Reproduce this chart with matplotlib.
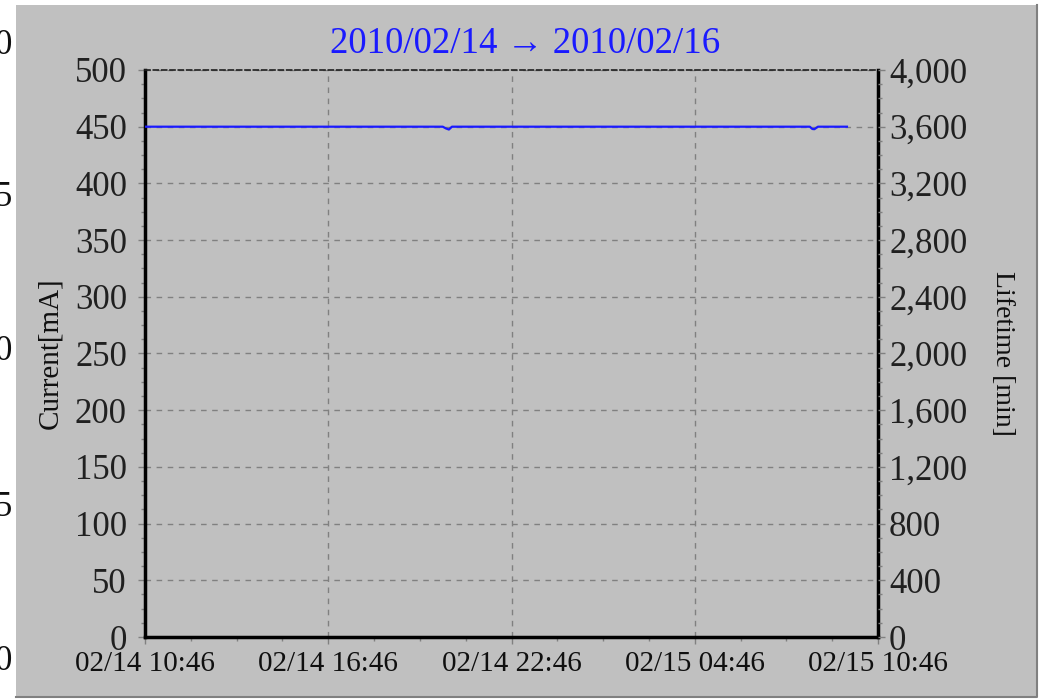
import matplotlib
matplotlib.use("Agg")
import matplotlib.pyplot as plt
import matplotlib.dates as mdates
from matplotlib.ticker import MultipleLocator, FuncFormatter
from matplotlib.patches import Rectangle
from matplotlib.lines import Line2D
import pandas as pd

plt.rcParams['font.family'] = ['Liberation Serif', 'DejaVu Serif', 'DejaVu Sans']

# ---- data ----
times = ["2010-02-14 10:46", "2010-02-14 20:31", "2010-02-14 20:37", "2010-02-14 20:43",
         "2010-02-14 20:49", "2010-02-15 08:32", "2010-02-15 08:37", "2010-02-15 08:41",
         "2010-02-15 08:48", "2010-02-15 09:45"]
current = [450, 450, 448.5, 447.5, 450, 450, 448.0, 447.8, 450, 450]
x_start = "2010-02-14 10:46"
x_end = "2010-02-15 10:46"
title_text = "2010/02/14 \u2192 2010/02/16"
left_label = "Current[mA]"
right_label = "Lifetime [min]"
cut_labels = ["0", "5", "0", "5", "0"]
cut_label_y = [45, 197, 352, 508, 662]

W, H = 1040, 699
fig = plt.figure(figsize=(W/100, H/100), dpi=100, facecolor="white")
bg = "#c0c0c0"
fig.patches.append(Rectangle((16/W, 1-697/H), (1037-16)/W, (697-5)/H,
                             transform=fig.transFigure, facecolor=bg,
                             edgecolor="none", zorder=-5))
fig.lines.append(Line2D([16/W, 1037/W, 1037/W], [1-697/H, 1-697/H, 1-5/H],
                        transform=fig.transFigure, color="#808080", linewidth=1.5,
                        zorder=-4))

for t, yy in zip(cut_labels, cut_label_y):
    fig.text(-5/W, 1-yy/H, t, ha="left", va="center", fontsize=25, color="#101010")

ax = fig.add_axes([145/W, 1-637/H, (878-145)/W, (637-70)/H])
ax.set_zorder(1)
ax.set_facecolor(bg)
t = pd.to_datetime(times)
ax.plot(t, current, color="#1a1aff", linewidth=1.6, zorder=3)

ax.set_xlim(pd.Timestamp(x_start), pd.Timestamp(x_end))
ax.set_ylim(0, 500)
ax.yaxis.set_major_locator(MultipleLocator(50))
ax.yaxis.set_minor_locator(MultipleLocator(12.5))
major = pd.date_range(x_start, x_end, freq="6h")
minor = pd.date_range(x_start, x_end, freq="90min")
ax.set_xticks(major)
ax.set_xticks(minor, minor=True)
ax.xaxis.set_major_formatter(mdates.DateFormatter("%m/%d %H:%M"))

ax.grid(True, which="major", color="#808080", linestyle=(0, (4, 4)), linewidth=1)
for s in ["left", "bottom", "right"]:
    ax.spines[s].set_linewidth(2.5)
    ax.spines[s].set_color("black")
ax.spines["top"].set_linestyle((0, (3, 2)))
ax.spines["top"].set_linewidth(1.2)
ax.spines["top"].set_color("#202020")

ax.tick_params(axis="y", which="major", length=5, width=1, color="#808080",
               labelsize=25, pad=8, labelcolor="#202020")
ax.tick_params(axis="y", which="minor", length=3, width=1, color="#808080")
ax.tick_params(axis="x", which="major", length=5, width=1, color="#808080",
               labelsize=21, pad=5, labelcolor="#101010")
ax.tick_params(axis="x", which="minor", length=3, width=1, color="#808080")
ax.set_ylabel(left_label, fontsize=21, color="#101010", labelpad=8)

ax2 = ax.twinx()
ax2.set_ylim(0, 4000)
ax2.yaxis.set_major_locator(MultipleLocator(400))
ax2.yaxis.set_minor_locator(MultipleLocator(100))
ax2.yaxis.set_major_formatter(FuncFormatter(lambda v, p: f"{v:,.0f}"))
ax2.tick_params(axis="y", which="major", length=5, width=1, color="#808080",
                labelsize=25, pad=3, labelcolor="#202020")
ax2.tick_params(axis="y", which="minor", length=3, width=1, color="#808080")
ax2.set_ylabel(right_label, fontsize=20, color="#101010", rotation=270, labelpad=34)
for s in ax2.spines.values():
    s.set_visible(False)

fig.text(525/W, 1-44/H, title_text, ha="center", va="center", fontsize=26.5, color="#1a1aff")

fig.savefig("out.png", dpi=100, facecolor="white")
